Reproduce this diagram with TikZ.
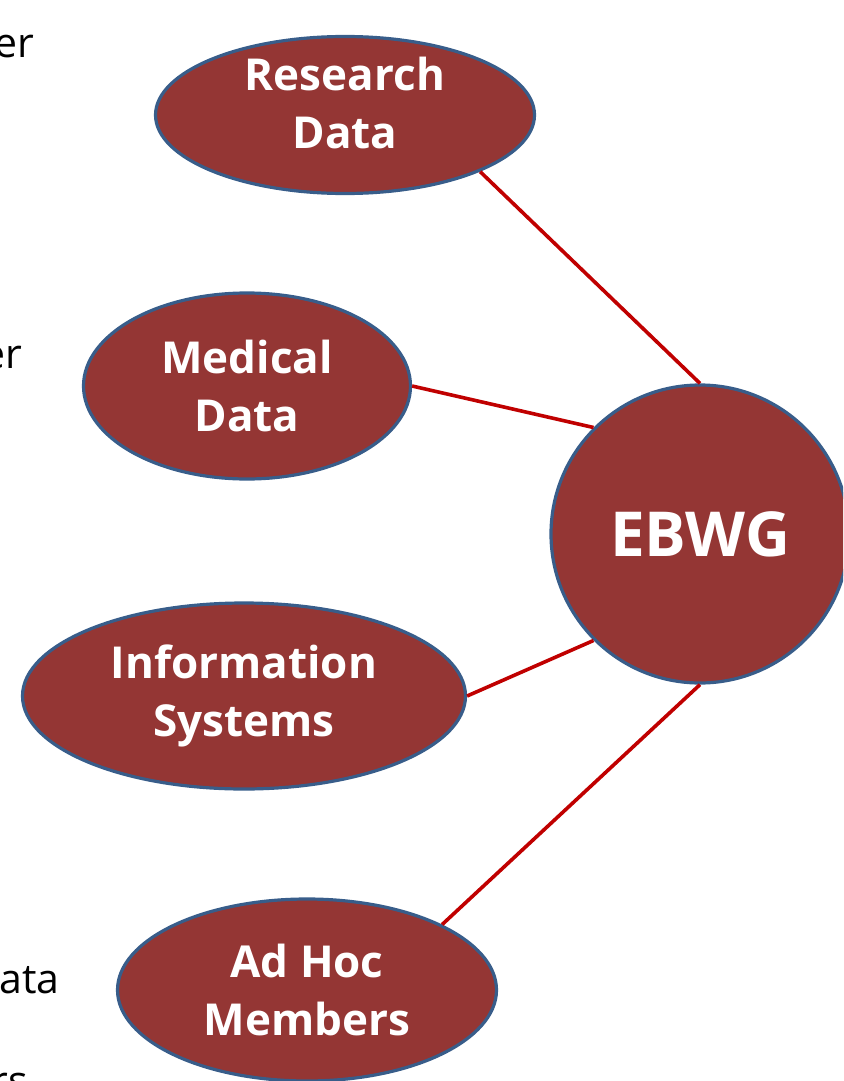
\documentclass[tikz,border=0pt]{standalone}
\usepackage{fontspec}
\setmainfont{Open Sans}
\usetikzlibrary{shapes.geometric}
\definecolor{fillred}{HTML}{943634}
\definecolor{edgeblue}{HTML}{385D8A}
\definecolor{linkred}{HTML}{C00000}
\begin{document}
\begin{tikzpicture}[x=1pt,y=-1pt,
  blob/.style={ellipse, fill=fillred, draw=edgeblue, line width=3.2pt, inner sep=0pt},
  hub/.style={circle, fill=fillred, draw=edgeblue, line width=3.2pt, inner sep=0pt},
  lab/.style={text=white, font=\fontsize{44}{58}\selectfont\bfseries, align=center, inner sep=0pt},
  link/.style={draw=linkred, line width=3.6pt},
  frag/.style={font=\fontsize{41}{48}\selectfont, anchor=base east, inner sep=0pt}]
\useasboundingbox (0,0) rectangle (843,1081);
\clip (0,0) rectangle (843,1081);
\node[frag] (f1) at (34,58) {er};
\node[frag] (f2) at (22,368) {er};
\node[frag] (f3) at (60,993) {ata};
\node[frag] (f4) at (28,1095) {rs};
\node[blob, minimum width=379, minimum height=157] (R) at (345,115) {};
\node[blob, minimum width=327, minimum height=186] (M) at (247,386) {};
\node[blob, minimum width=443, minimum height=186] (I) at (244,696) {};
\node[blob, minimum width=379, minimum height=182] (A) at (307,990) {};
\node[hub, minimum size=298] (E) at (700,534) {};
\node[lab] (Rt) at ([yshift=12pt]R.center) {Research\\Data};
\node[lab] (Mt) at (M.center) {Medical\\Data};
\node[lab] (It) at (I.center) {Information\\Systems};
\node[lab] (At) at (A.center) {Ad Hoc\\Members};
\node[lab, font=\fontsize{62}{70}\selectfont\bfseries] (Et) at (E.center) {EBWG};
\draw[link] (R.south east) -- (E.north);
\draw[link] (M.east) -- (E.north west);
\draw[link] (I.east) -- (E.south west);
\draw[link] (A.north east) -- (E.south);
\end{tikzpicture}
\end{document}
